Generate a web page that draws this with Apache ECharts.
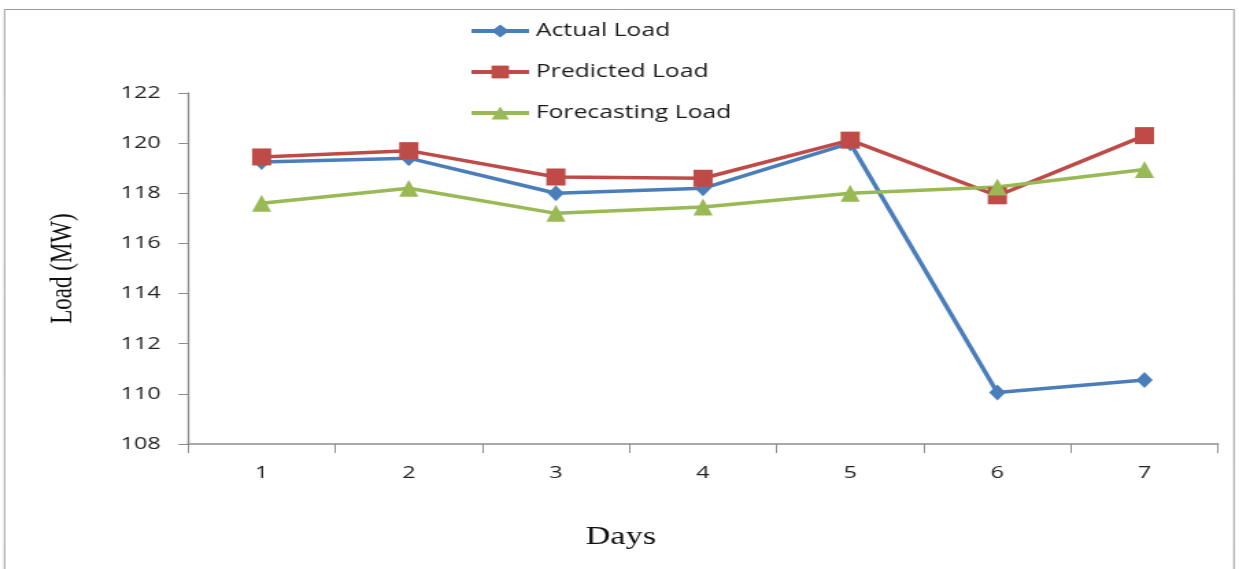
<!DOCTYPE html>
<html>
<head>
<meta charset="utf-8">
<script src="https://cdn.jsdelivr.net/npm/echarts@6/dist/echarts.min.js"></script>
<style>
  html, body { margin: 0; padding: 0; background: #fff; overflow: hidden; }
  /* The chart is laid out on a narrower canvas and widened horizontally,
     giving the stretched look of the original figure. */
  #chart {
    width: 904px;
    height: 569px;
    transform: scaleX(1.3706);
    transform-origin: 0 0;
  }
</style>
</head>
<body>
<div id="chart"></div>
<script>
// Daily load figures (MW) over one week
const days = ['1', '2', '3', '4', '5', '6', '7'];
const actualLoad = [119.25, 119.4, 118.0, 118.2, 120.0, 110.05, 110.55];
const predictedLoad = [119.45, 119.7, 118.65, 118.6, 120.12, 117.9, 120.3];
const forecastingLoad = [117.6, 118.2, 117.2, 117.45, 118.0, 118.25, 118.95];

const chart = echarts.init(document.getElementById('chart'));

function lineSeries(name, data, color, symbol, size) {
  return {
    name: name,
    type: 'line',
    data: data,
    symbol: symbol,
    symbolSize: size,
    lineStyle: { color: color, width: 3.5 },
    itemStyle: { color: color },
    emphasis: { disabled: true }
  };
}

chart.setOption({
  animation: false,
  graphic: [
    {
      type: 'rect',
      shape: { x: 3.3, y: 9.5, width: 897, height: 580 },
      style: { fill: 'none', stroke: '#9a9a9a', lineWidth: 1 },
      silent: true
    },
    {
      type: 'text',
      x: 453,
      y: 537,
      style: {
        text: 'Days',
        fontFamily: 'Liberation Serif',
        fontSize: 25,
        fill: '#111',
        textAlign: 'center',
        textVerticalAlign: 'middle'
      },
      silent: true
    }
  ],
  legend: {
    orient: 'vertical',
    left: 337,
    top: 17,
    itemWidth: 42,
    itemHeight: 16,
    itemGap: 23,
    lineStyle: { width: 4 },
    textStyle: { fontFamily: 'Open Sans', fontSize: 18, color: '#1a1a1a' },
    data: ['Actual Load', 'Predicted Load', 'Forecasting Load']
  },
  grid: { left: 137.2, right: 15.3, top: 93, bottom: 125 },
  xAxis: {
    type: 'category',
    data: days,
    boundaryGap: true,
    axisLine: { lineStyle: { color: '#8c8c8c', width: 1.6 } },
    axisTick: { show: true, length: 9, lineStyle: { color: '#8c8c8c' } },
    axisLabel: { fontFamily: 'Open Sans', fontSize: 17, color: '#222', margin: 21 },
    splitLine: { show: false }
  },
  yAxis: {
    type: 'value',
    min: 108,
    max: 122,
    interval: 2,
    name: 'Load (MW)',
    nameLocation: 'middle',
    nameGap: 80,
    nameRotate: 90,
    nameTextStyle: { fontFamily: 'Liberation Serif', fontSize: 23, color: '#111' },
    axisLine: { show: true, lineStyle: { color: '#8c8c8c', width: 1.4 } },
    axisTick: { show: true, length: 7, lineStyle: { color: '#8c8c8c' } },
    axisLabel: { fontFamily: 'Open Sans', fontSize: 17, color: '#222', margin: 20 },
    splitLine: { show: false }
  },
  series: [
    lineSeries('Actual Load', actualLoad, '#4a7ebb', 'diamond', [12, 16]),
    lineSeries('Predicted Load', predictedLoad, '#be4b48', 'rect', [14, 17]),
    lineSeries('Forecasting Load', forecastingLoad, '#98b954', 'triangle', [14, 17])
  ]
});
</script>
</body>
</html>
